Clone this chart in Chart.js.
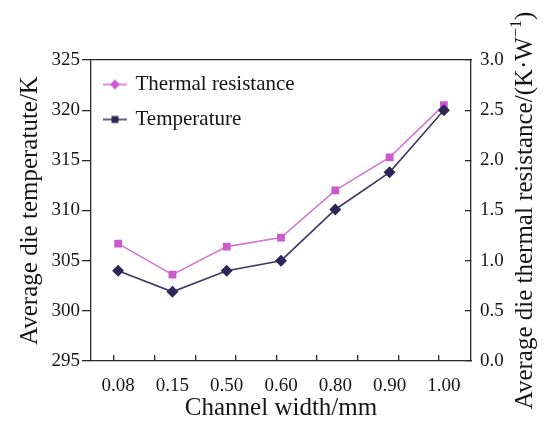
<!DOCTYPE html>
<html>
<head>
<meta charset="utf-8">
<script src="https://cdn.jsdelivr.net/npm/chart.js@4.4.1/dist/chart.umd.min.js"></script>
<style>
  html, body { margin: 0; padding: 0; background: #fff; }
  #wrap { width: 546px; height: 421px; }
</style>
</head>
<body>
<div id="wrap"><canvas id="chart"></canvas></div>
<script>
// data
var widths = ['0.08', '0.15', '0.50', '0.60', '0.80', '0.90', '1.00'];
var temperature = [304.0, 301.9, 304.0, 305.0, 310.1, 313.8, 320.0];
var resistance = [1.17, 0.86, 1.14, 1.23, 1.70, 2.03, 2.55];
var seriesNames = ['Temperature', 'Thermal resistance'];

var pink = '#cc5acc', pinkLine = '#d277d2';
var navy = '#2c2756', navyLine = '#3d3a64';
var axisCol = '#2a2a2a';

Chart.defaults.font.family = '"Liberation Serif", "Times New Roman", serif';
Chart.defaults.color = '#151515';

// legend icons: short line with a marker (shapes swapped as in the original figure)
function legendIcon(col, lineCol, shape) {
  var c = document.createElement('canvas');
  c.width = 24; c.height = 12;
  var g = c.getContext('2d');
  g.strokeStyle = lineCol; g.lineWidth = 1.6;
  g.beginPath(); g.moveTo(0, 6); g.lineTo(24, 6); g.stroke();
  g.fillStyle = col;
  if (shape == 'diamond') {
    g.beginPath(); g.moveTo(12, 1); g.lineTo(17, 6); g.lineTo(12, 11); g.lineTo(7, 6); g.closePath(); g.fill();
  } else {
    g.fillRect(8.5, 2.5, 7, 7);
  }
  return c;
}
var icons = [legendIcon(navy, navyLine, 'square'), legendIcon(pink, pinkLine, 'diamond')];

// keep the legend inside the plot frame (vertical legend resets its top to 0)
var legendInside = {
  id: 'legendInside',
  beforeDraw: function(chart) {
    var lg = chart.legend, a = chart.chartArea;
    if (!lg) return;
    var h = lg.height;
    lg.top = a.top;
    lg.bottom = a.top + h;
  }
};

// right axis title reads bottom-to-top like the left one
var rightTitle = {
  id: 'rightTitle',
  afterDraw: function(chart) {
    var ctx = chart.ctx, a = chart.chartArea;
    var main = 'Average die thermal resistance/(K\u00b7W', sup = '\u22121', end = ')';
    ctx.save();
    ctx.translate(525, (a.top + a.bottom) / 2);
    ctx.rotate(-Math.PI / 2);
    ctx.fillStyle = '#151515';
    ctx.textBaseline = 'middle';
    ctx.textAlign = 'left';
    ctx.font = '25px "Liberation Serif"';
    var w1 = ctx.measureText(main).width, w3 = ctx.measureText(end).width;
    ctx.font = '16px "Liberation Serif"';
    var w2 = ctx.measureText(sup).width;
    var x = -(w1 + w2 + w3) / 2;
    ctx.font = '25px "Liberation Serif"';
    ctx.fillText(main, x, 0);
    ctx.font = '16px "Liberation Serif"';
    ctx.fillText(sup, x + w1, -8);
    ctx.font = '25px "Liberation Serif"';
    ctx.fillText(end, x + w1 + w2, 0);
    ctx.restore();
  }
};

var ctx = document.getElementById('chart');
var myChart = new Chart(ctx, {
  type: 'line',
  data: {
    labels: widths,
    datasets: [{
      label: seriesNames[0],
      data: temperature,
      yAxisID: 'y',
      borderColor: navyLine,
      backgroundColor: navy,
      borderWidth: 1.6,
      pointStyle: 'rectRot',
      pointRadius: 6,
      pointBorderWidth: 0,
      pointBackgroundColor: navy,
      tension: 0
    }, {
      label: seriesNames[1],
      data: resistance,
      yAxisID: 'y1',
      borderColor: pinkLine,
      backgroundColor: pink,
      borderWidth: 1.6,
      pointStyle: 'rect',
      pointRadius: 5.5,
      pointBorderWidth: 0,
      pointBackgroundColor: pink,
      tension: 0
    }]
  },
  options: {
    responsive: true,
    maintainAspectRatio: false,
    animation: false,
    layout: { padding: 0 },
    plugins: {
      tooltip: { enabled: false },
      legend: {
        position: 'chartArea',
        align: 'start',
        labels: {
          usePointStyle: true,
          pointStyleWidth: 20,
          padding: 14,
          font: { size: 21 },
          color: '#151515',
          generateLabels: function(chart) {
            var items = Chart.defaults.plugins.legend.labels.generateLabels(chart);
            items.forEach(function(it) { it.pointStyle = icons[it.datasetIndex]; });
            return items.reverse();
          }
        }
      }
    },
    scales: {
      x: {
        type: 'category',
        position: 'bottom',
        offset: true,
        weight: 1,
        grid: { display: false },
        border: { display: true, color: axisCol, width: 1.3 },
        ticks: { font: { size: 19 }, padding: 6, maxRotation: 0, autoSkip: false },
        title: { display: true, text: 'Channel width/mm', font: { size: 25, lineHeight: 1 }, padding: { top: 0, bottom: 0 } },
        afterFit: function(s) { s.height = 60; }
      },
      xt: {
        type: 'linear',
        position: 'bottom',
        weight: 0,
        min: -0.566,
        max: 8.79,
        grid: { drawOnChartArea: false, tickLength: -6, color: axisCol, lineWidth: 1.3 },
        border: { display: false },
        ticks: { stepSize: 1, includeBounds: false, display: false },
        afterFit: function(s) { s.height = 0; }
      },
      xTop: {
        type: 'linear',
        position: 'top',
        min: 0,
        max: 1,
        grid: { display: false },
        border: { display: true, color: axisCol, width: 1.3 },
        ticks: { display: false },
        afterFit: function(s) { s.height = 60; }
      },
      y: {
        position: 'left',
        min: 295,
        max: 325,
        grid: { drawOnChartArea: false, tickLength: 9, color: axisCol, lineWidth: 1.3 },
        border: { display: true, color: axisCol, width: 1.3 },
        ticks: { stepSize: 5, padding: 2, font: { size: 19 } },
        title: { display: true, text: 'Average die temperatute/K', font: { size: 25 }, padding: { top: 15, bottom: 0 } },
        afterFit: function(s) { s.width = 91; }
      },
      y1: {
        position: 'right',
        min: 0,
        max: 3,
        grid: { drawOnChartArea: false, tickLength: -6, color: axisCol, lineWidth: 1.3 },
        border: { display: true, color: axisCol, width: 1.3 },
        ticks: {
          stepSize: 0.5,
          padding: 15,
          font: { size: 19 },
          callback: function(v) { return v.toFixed(1); }
        },
        afterFit: function(s) { s.width = 75; }
      }
    }
  },
  plugins: [legendInside, rightTitle]
});
</script>
</body>
</html>
